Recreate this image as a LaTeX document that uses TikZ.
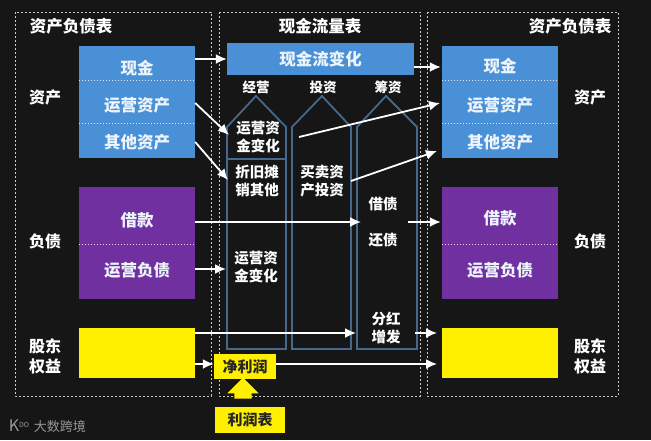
\documentclass[tikz,border=0pt]{standalone}
\usepackage{fontspec}
\setmainfont{Noto Sans CJK SC}
\usepackage{amsmath}
\usetikzlibrary{arrows.meta,shapes.arrows}

\definecolor{bgdark}{HTML}{161616}
\definecolor{cellblue}{HTML}{4A90D6}
\definecolor{cellpurple}{HTML}{7030A0}
\definecolor{cellyellow}{HTML}{FFF000}
\definecolor{pentline}{HTML}{46688C}

\begin{document}
\begin{tikzpicture}
[
x=1pt, y=-1pt,
frame/.style={draw=white!80!black, line width=0.9pt, dash pattern=on 2pt off 2pt},
head/.style={text=white, font=\bfseries\fontsize{16.5}{18}\selectfont, inner sep=0pt},
side/.style={text=white, font=\bfseries\fontsize{16}{20}\selectfont, align=center, inner sep=0pt},
small/.style={text=white, font=\bfseries\fontsize{13.5}{16}\selectfont, inner sep=0pt},
item/.style={text=white, font=\bfseries\fontsize{14.5}{18}\selectfont, align=center, inner sep=0pt},
cell/.style={text=white!90!cellblue, font=\bfseries\fontsize{16.5}{18}\selectfont, minimum width=116pt, inner sep=0pt, text depth=1.5pt},
bluecell/.style={cell, fill=cellblue},
purplecell/.style={cell, fill=cellpurple},
yellowcell/.style={fill=cellyellow, text=black!85, font=\bfseries\fontsize{15}{18}\selectfont, inner sep=0pt},
divide/.style={draw=white!85!cellpurple, thin, dash pattern=on 1.5pt off 1.5pt},
pent/.style={draw=pentline, line width=1.8pt},
flow/.style={draw=white, line width=1.8pt, -{Latex[length=11pt,width=10pt]}}
]
\useasboundingbox[fill=bgdark] (0,0) rectangle (651,440);

%Frames
\draw[frame] (15,12) rectangle (211,396);
\draw[frame] (219,12) rectangle (420,396);
\draw[frame] (427,12) rectangle (618,396);

%Pentagons
\draw[pent] (227,349) -- (227,127) -- (256,96) -- (286,127) -- (286,349) -- cycle;
\draw[pent] (292,349) -- (292,127) -- (322,96) -- (351,127) -- (351,349) -- cycle;
\draw[pent] (357,349) -- (357,127) -- (386,96) -- (417,127) -- (417,349) -- cycle;
\draw[pent] (227,159) -- (286,159);

%Titles
\node[head] (titleL) at (71,26)  {资产负债表};
\node[head] (titleM) at (320,26) {现金流量表};
\node[head] (titleR) at (570,26) {资产负债表};

%Left column
\node[side] (assetL)  at (45,97)  {资产};
\node[side] (debtL)   at (45,241) {负债};
\node[side] (equityL) at (45,356) {股东\\权益};
\node[bluecell, minimum height=34pt, text height=24pt]   (cashL)   at (137,63)    {现金};
\node[bluecell, minimum height=43pt, text height=22pt]   (opasL)   at (137,101.5) {运营资产};
\node[bluecell, minimum height=35pt, text height=17pt]   (otherL)  at (137,140.5) {其他资产};
\node[purplecell, minimum height=57pt, text height=23pt] (loanL)   at (137,215.5) {借款};
\node[purplecell, minimum height=55pt, text height=12pt] (opdebtL) at (137,271.5) {运营负债};
\node[yellowcell, minimum width=116pt, minimum height=50pt] (yellowL) at (137,353) {};

%Right column
\node[side] (assetR)  at (590,97)  {资产};
\node[side] (debtR)   at (590,241) {负债};
\node[side] (equityR) at (590,356) {股东\\权益};
\node[bluecell, minimum height=34pt, text height=20pt]   (cashR)   at (500,63)    {现金};
\node[bluecell, minimum height=43pt, text height=22pt]   (opasR)   at (500,101.5) {运营资产};
\node[bluecell, minimum height=35pt, text height=17pt]   (otherR)  at (500,140.5) {其他资产};
\node[purplecell, minimum height=57pt, text height=19pt] (loanR)   at (500,215.5) {借款};
\node[purplecell, minimum height=55pt, text height=12pt] (opdebtR) at (500,271.5) {运营负债};
\node[yellowcell, minimum width=116pt, minimum height=50pt] (yellowR) at (500,353) {};

\draw[divide] (cashL.south west) -- (cashL.south east);
\draw[divide] (opasL.south west) -- (opasL.south east);
\draw[divide] (loanL.south west) -- (loanL.south east);
\draw[divide] (cashR.south west) -- (cashR.south east);
\draw[divide] (opasR.south west) -- (opasR.south east);
\draw[divide] (loanR.south west) -- (loanR.south east);

%Middle column
\node[bluecell, minimum width=187pt, minimum height=32pt] (change) at (320.5,59) {现金流变化};
\node[small] (operate) at (256,87) {经营};
\node[small] (invest)  at (323,87) {投资};
\node[small] (finance) at (388,87) {筹资};
\node[item] (wcup)    at (258,137) {运营资\\金变化};
\node[item] (deprec)  at (257,181) {折旧摊\\销其他};
\node[item] (wcdown)  at (256,267) {运营资\\金变化};
\node[item] (capex)   at (322,181) {买卖资\\产投资};
\node[item] (borrow)  at (383,204) {借债};
\node[item] (repay)   at (383,240) {还债};
\node[item] (divid)   at (386,328) {分红\\增发};
\node[yellowcell, minimum width=62pt, minimum height=25pt] (profit) at (245,366.5) {净利润};
\node[yellowcell, minimum width=70pt, minimum height=26pt] (income) at (250,420) {利润表};
\node[single arrow, fill=cellyellow, rotate=90, minimum height=21pt,
      single arrow head extend=7pt, single arrow head indent=0pt, inner sep=0pt] (uparrow) at (243,392.5) {\rule{0pt}{17pt}};

%Free ends
\coordinate (inwcup)   at (229,135);
\coordinate (indeprec) at (228,180);
\coordinate (outwc)    at (299,137);
\coordinate (incash)   at (440,103);
\coordinate (outcapex) at (351,181);
\coordinate (inother)  at (437,151);
\coordinate (inrepay)  at (361,222);
\coordinate (outrepay) at (408,222);
\coordinate (individ)  at (356,333);
\coordinate (outdivid) at (415,333);
\coordinate (inequity) at (437,333);
\coordinate (inprofit) at (437,364);
\coordinate (inwcdown) at (226,269);

%Lines
\draw[flow] ([yshift=4pt]cashL.east) -- (change.west);
\draw[flow] ([yshift=-8pt]change.east) -- ([xshift=-1pt,yshift=-4pt]cashR.west);
\draw[flow] ([yshift=-1.5pt]opasL.east) -- (inwcup);
\draw[flow] ([yshift=-1.5pt]otherL.east) -- (indeprec);
\draw[flow] (outwc) -- (incash);
\draw[flow] (outcapex) -- (inother);
\draw[flow] ([yshift=-6.5pt]loanL.east) -- (inrepay);
\draw[flow] (outrepay) -- ([xshift=-1pt,yshift=-6.5pt]loanR.west);
\draw[flow] ([yshift=2.5pt]opdebtL.east) -- (inwcdown);
\draw[flow] ([yshift=20pt]yellowL.east) -- (individ);
\draw[flow] (outdivid) -- (inequity);
\draw[flow] ([yshift=-11pt]yellowL.east) -- ([yshift=2.5pt]profit.west);
\draw[flow] ([yshift=2.5pt]profit.east) -- (inprofit);

%Logo
\node[text=white!60!black, font=\fontsize{13}{15}\selectfont, inner sep=0pt] (brand) at (60,427) {大数跨境};
\node[text=white!60!black, font=\fontsize{16}{15}\selectfont, inner sep=0pt] (logo) at (19,426) {K\raisebox{4pt}{\fontsize{7}{7}\selectfont DO}};
\end{tikzpicture}
\end{document}
